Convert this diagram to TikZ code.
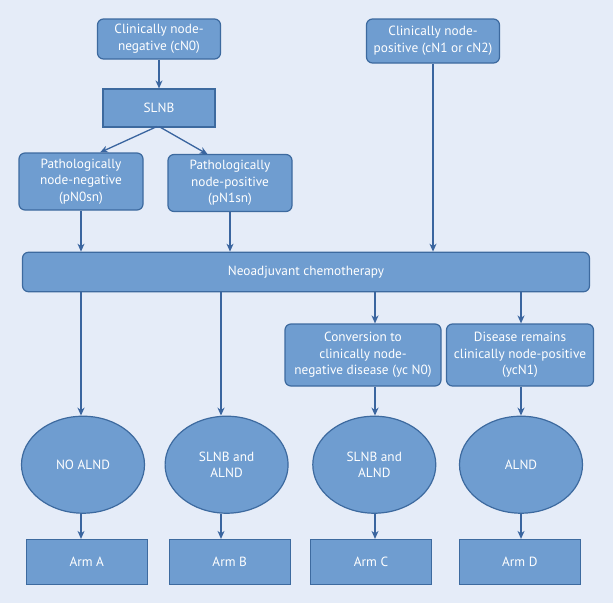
\documentclass[tikz,border=0pt]{standalone}
\usepackage{fontspec}
\setmainfont{PT Sans}
\usetikzlibrary{arrows.meta,shapes.geometric,calc}
\definecolor{bgc}{HTML}{E5ECF8}
\definecolor{boxc}{HTML}{6F9DD0}
\definecolor{edgec}{HTML}{3D6A9F}
\definecolor{linec}{HTML}{3A659F}
\begin{document}
\begin{tikzpicture}[x=1pt,y=-1pt,
  every node/.style={font=\fontsize{13.3}{16.7}\selectfont, text=white, align=center, inner sep=0pt},
  rbox/.style={draw=edgec, line width=1.2pt, fill=boxc, rounded corners=6pt},
  sbox/.style={draw=edgec, line width=1.2pt, fill=boxc},
  ell/.style={draw=edgec, line width=1.2pt, fill=boxc, ellipse, minimum width=123pt, minimum height=97pt},
  arr/.style={draw=linec, line width=1.3pt, -{Stealth[length=8pt,width=7pt,inset=2.5pt]}}]
\fill[bgc] (0,0) rectangle (613,603);
\useasboundingbox (0,0) rectangle (613,603);

\node[rbox, minimum width=123pt, minimum height=40pt] (cn0) at (159,39) {Clinically node-\\negative (cN0)};
\node[rbox, minimum width=133pt, minimum height=44pt] (cn1) at (433,41) {Clinically node-\\positive (cN1 or cN2)};
\node[sbox, minimum width=112pt, minimum height=38pt] (slnb) at (159,108) {SLNB};
\node[rbox, minimum width=124pt, minimum height=57pt] (pn0) at (81,181.5) {Pathologically\\node-negative\\(pN0sn)};
\node[rbox, minimum width=124pt, minimum height=57pt] (pn1) at (230,183) {Pathologically\\node-positive\\(pN1sn)};
\node[rbox, minimum width=567pt, minimum height=39.5pt] (neo) at (306,272) {Neoadjuvant chemotherapy};
\node[rbox, minimum width=156pt, minimum height=62pt] (conv) at (363,355) {Conversion to\\clinically node-\\negative disease (yc N0)};
\node[rbox, minimum width=147pt, minimum height=62pt] (dis) at (520,355) {Disease remains\\clinically node-positive\\(ycN1)};

\node[ell] (ea) at (83,464.7) {NO ALND};
\node[ell] (eb) at (226.6,464.7) {SLNB and\\ALND};
\node[ell] (ec) at (374.3,464.7) {SLNB and\\ALND};
\node[ell] (ed) at (521,464.7) {ALND};

\node[sbox, minimum width=121pt, minimum height=45pt] (arma) at (86.8,562) {Arm A};
\node[sbox, minimum width=121pt, minimum height=45pt] (armb) at (229.7,562) {Arm B};
\node[sbox, minimum width=121pt, minimum height=45pt] (armc) at (371,562) {Arm C};
\node[sbox, minimum width=121pt, minimum height=45pt] (armd) at (519.8,562) {Arm D};

\coordinate (xa) at (81,0);
\coordinate (xb) at (221,0);
\coordinate (xc) at (375,0);
\coordinate (xd) at (521,0);
\coordinate (s1) at (157,126.5);
\coordinate (s2) at (159,126.5);

\draw[arr] (cn0) -- (slnb);
\draw[arr] (s1) -- (100,152.5) coordinate (t1);
\draw[arr] (s2) -- (207.6,154.3) coordinate (t2);
\draw[arr] (pn0.south) -- (pn0.south |- neo.north);
\draw[arr] (pn1.south) -- (pn1.south |- neo.north);
\draw[arr] (cn1.south) -- (cn1.south |- neo.north);

\draw[arr] (xa |- neo.south) -- (xa |- ea.north);
\draw[arr] (xb |- neo.south) -- (xb |- eb.north);
\draw[arr] (xc |- neo.south) -- (xc |- conv.north);
\draw[arr] (xd |- neo.south) -- (xd |- dis.north);
\draw[arr] (xc |- conv.south) -- (xc |- ec.north);
\draw[arr] (xd |- dis.south) -- (xd |- ed.north);

\draw[arr] (xa |- ea.south) -- (xa |- arma.north);
\draw[arr] (xb |- eb.south) -- (xb |- armb.north);
\draw[arr] (xc |- ec.south) -- (xc |- armc.north);
\draw[arr] (xd |- ed.south) -- (xd |- armd.north);
\end{tikzpicture}
\end{document}
